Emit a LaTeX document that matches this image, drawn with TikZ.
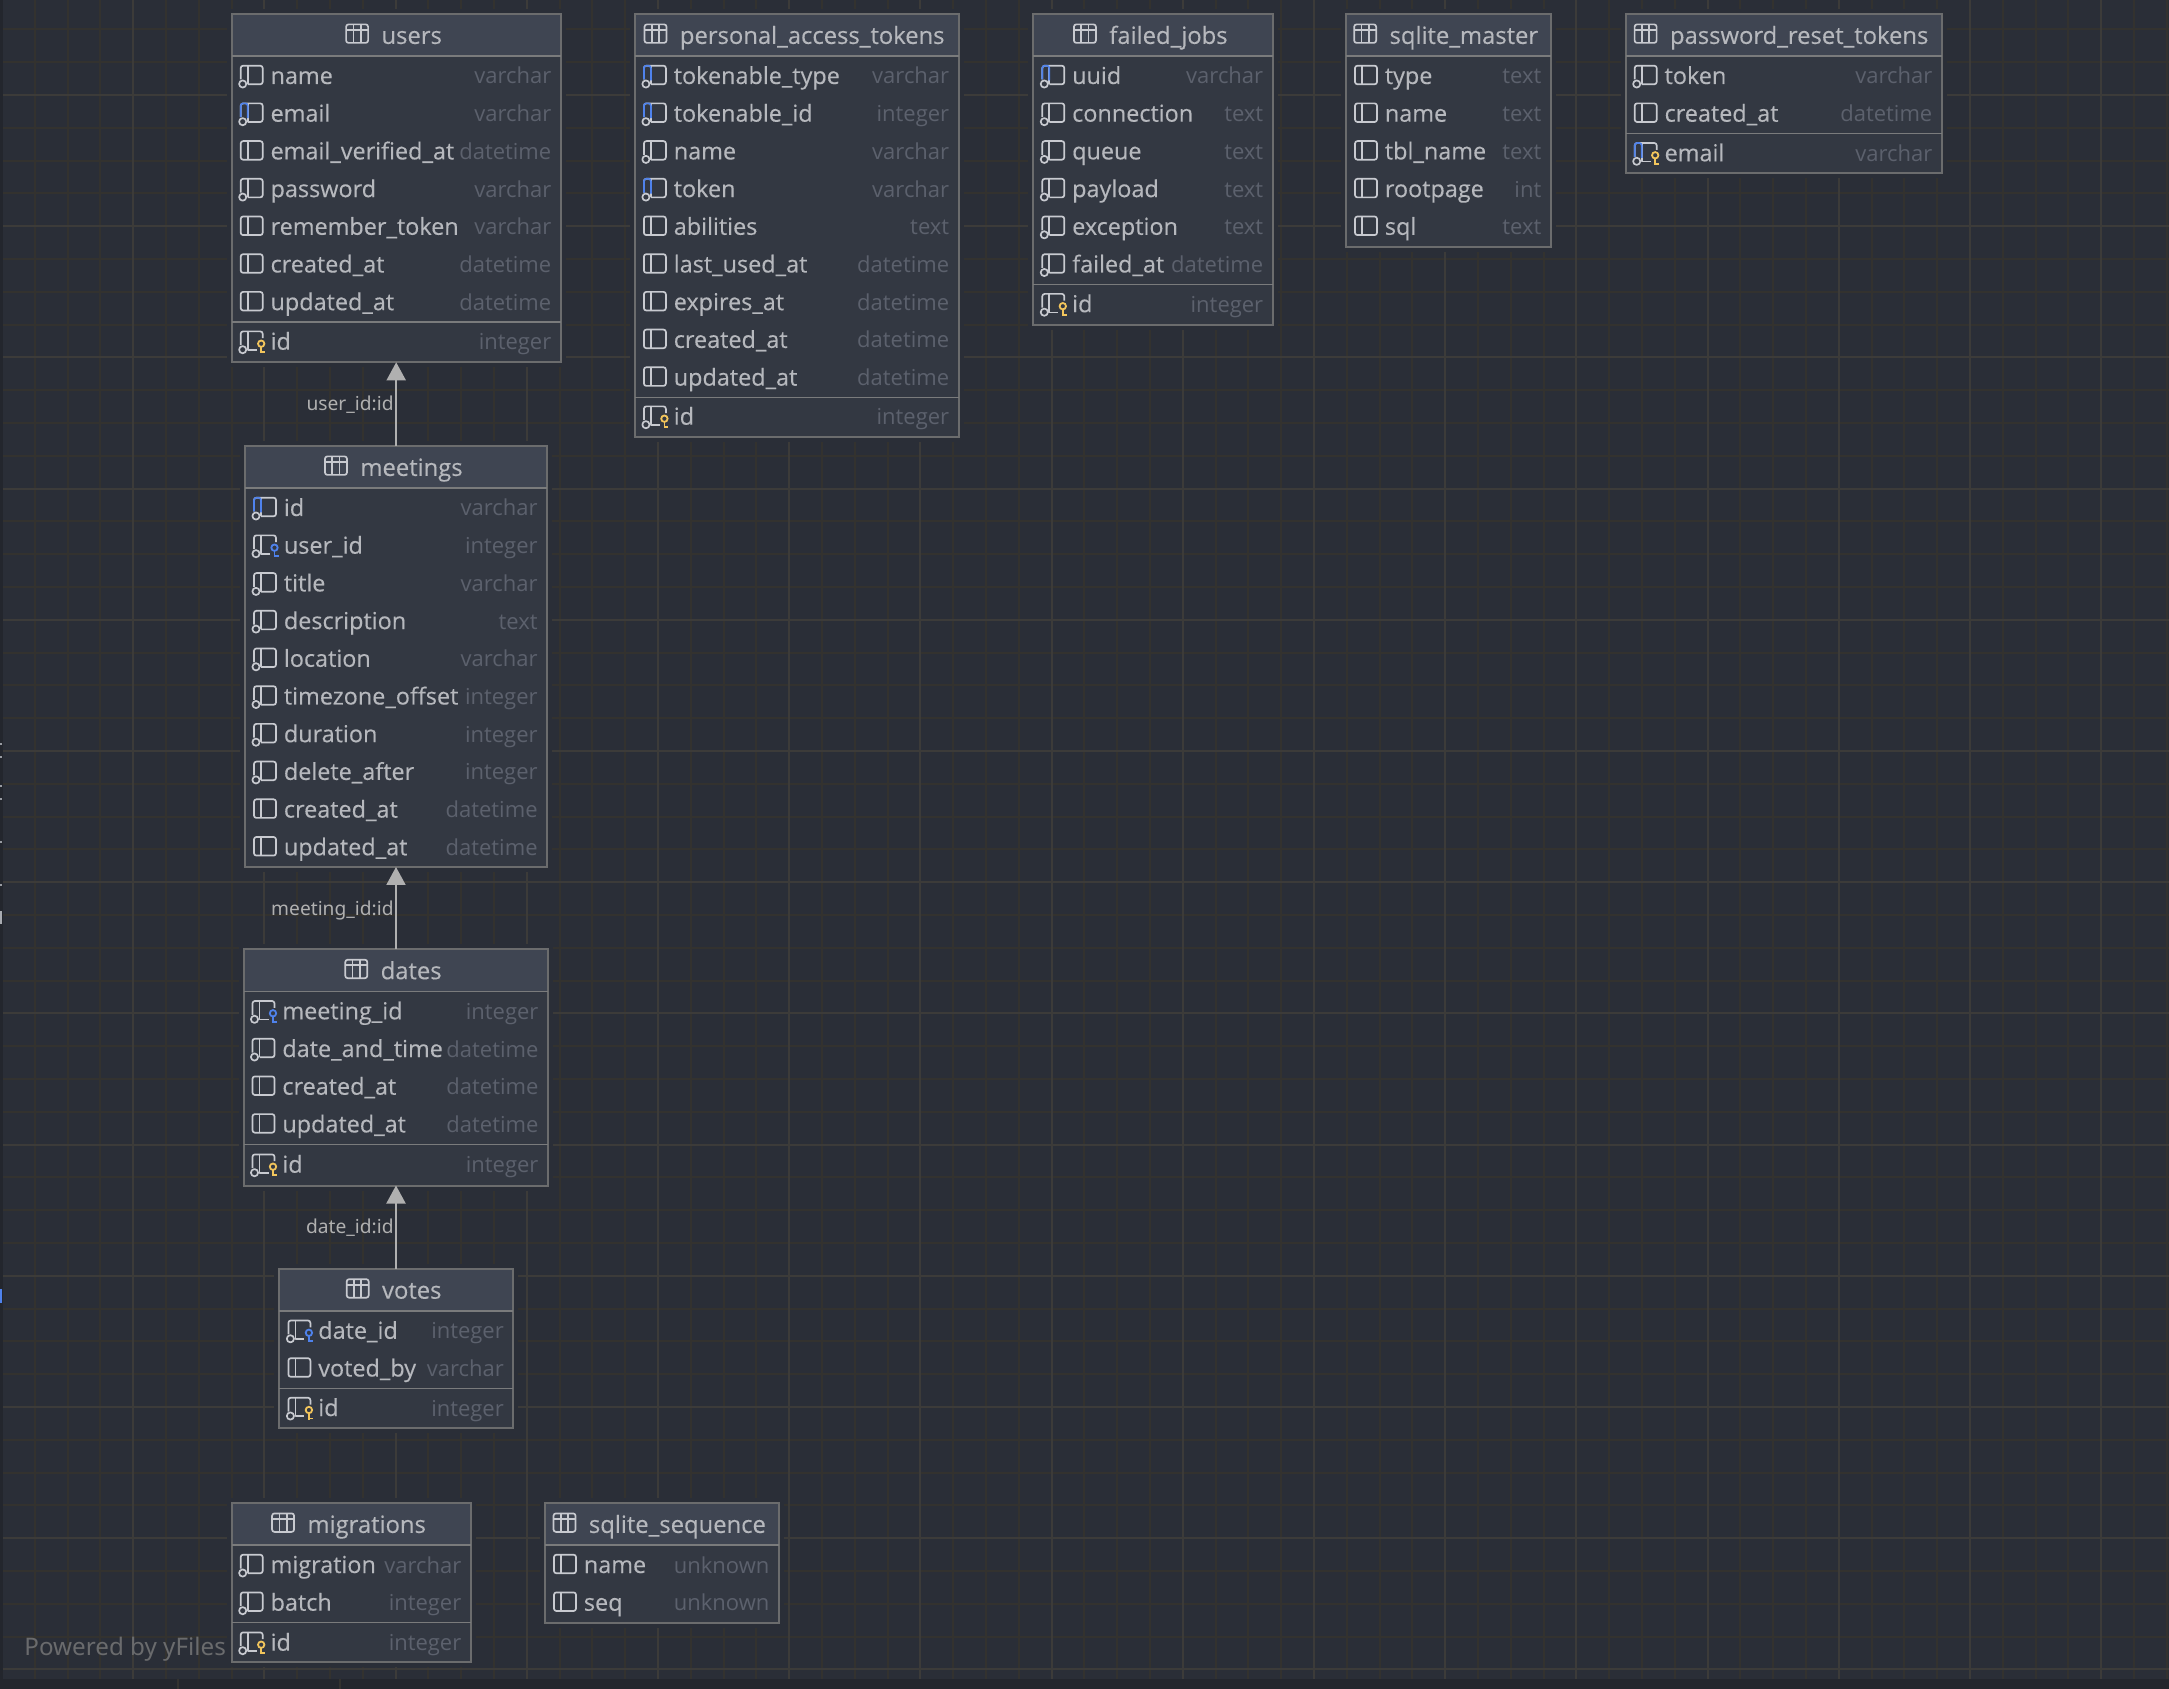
\documentclass[tikz,border=0pt]{standalone}
\usepackage{fontspec}
\usetikzlibrary{arrows.meta}
\setmainfont{Open Sans}
\newfontfamily\labelfont{Noto Sans}
\newfontfamily\namefont[FakeBold=0.25]{Open Sans}
\definecolor{bgc}{HTML}{2A2E37}
\definecolor{stripc}{HTML}{23262D}
\definecolor{minorc}{HTML}{33322F}
\definecolor{majorc}{HTML}{3C3B39}
\definecolor{bodyc}{HTML}{333842}
\definecolor{headc}{HTML}{3F4552}
\definecolor{edgec}{HTML}{6B6C6D}
\definecolor{textc}{HTML}{B6B8BD}
\definecolor{typec}{HTML}{5C616D}
\definecolor{iconc}{HTML}{C8CAD0}
\definecolor{bluec}{HTML}{4F82EC}
\definecolor{yelc}{HTML}{F2C55C}
\definecolor{linkc}{HTML}{B0B0B0}
\tikzset{
  minorg/.style={minorc,line width=1pt},
  majorg/.style={majorc,line width=1pt},
  tablebox/.style={draw=edgec,fill=bodyc,line width=1pt,inner sep=0pt,outer sep=0pt,anchor=north west},
  divline/.style={edgec!90!white,line width=0.75pt},
  titletext/.style={text=textc,inner sep=0pt,anchor=base,font=\namefont\fontsize{11.9}{14}\selectfont},
  fieldname/.style={text=textc,inner sep=0pt,anchor=base west,font=\namefont\fontsize{11.7}{14}\selectfont},
  fieldtype/.style={text=typec,inner sep=0pt,anchor=base east,font=\fontsize{11}{14}\selectfont},
  linktext/.style={text=linkc,inner sep=0pt,anchor=base east,font=\labelfont\fontsize{9.6}{12}\selectfont},
  link/.style={linkc,line width=1pt,-{Triangle[width=9.5pt,length=9pt]}},
  ic/.style={iconc,line width=0.85pt,line join=round},
  icb/.style={bluec,line width=0.85pt,line join=round},
  icround/.style={rounded corners=1.2pt},
}
\newcommand\keyshape[1]{%
  \draw[#1,line width=0.9pt] (29.5,2) circle[radius=3.2];
  \draw[#1,line width=0.9pt] (29.5,5.2)--(29.5,11.5) (29.5,10.5)--(33.5,10.5);}
\newcommand\holeshape{\draw[ic] (11,8) circle[radius=3.6];}
\expandafter\newcommand\csname iconp\endcsname{%
  \draw[ic,icround] (9,-10.3) rectangle (31,8.3);
  \draw[ic] (16,-10.3)--(16,8.3);}
\expandafter\newcommand\csname iconn\endcsname{%
  \draw[ic,icround] (9,3.5)--(9,-10.3)--(31,-10.3)--(31,8.3)--(16,8.3);
  \draw[ic] (16,-10.3)--(16,8.3);\holeshape}
\expandafter\newcommand\csname iconb\endcsname{%
  \csname iconn\endcsname
  \draw[icb,icround] (9,3.5)--(9,-10.3)--(16,-10.3)--(16,4.5);}
\expandafter\newcommand\csname iconk\endcsname{%
  \draw[ic,icround] (9,3.5)--(9,-10.3)--(31,-10.3)--(31,-3.5);
  \draw[ic] (16,-10.3)--(16,8.3)--(25,8.3);\holeshape\keyshape{yelc}}
\expandafter\newcommand\csname iconf\endcsname{%
  \draw[ic,icround] (9,3.5)--(9,-10.3)--(31,-10.3)--(31,-3.5);
  \draw[ic] (16,-10.3)--(16,8.3)--(25,8.3);\holeshape\keyshape{bluec}}
\expandafter\newcommand\csname icona\endcsname{%
  \csname iconk\endcsname
  \draw[icb,icround] (9,3.5)--(9,-10.3)--(16,-10.3)--(16,4.5);}
% id, L, R, T, B, title, rows
\newcommand\dbtable[7]{%
  \fill[bgc] ({#2-5},{#4-5}) rectangle ({#3+5},{#5+5});
  \node[tablebox,minimum width={(#3-#2)*0.5pt},minimum height={(#5-#4)*0.5pt}] (#1) at (#2,#4) {};
  \fill[headc] ({#2+1},{#4+1}) rectangle ({#3-1},{#4+42.3});
  \draw[divline] (#2,{#4+42.3})--(#3,{#4+42.3});
  \node[titletext] (#1title) at ({(#2+#3)/2-2},{#4+30.2}) {\hspace*{17.5pt}#6};
  \begin{scope}[shift={(#1title.base west)}]
    \draw[ic,rounded corners=1.2pt] (0,-19.5) rectangle (22,-1);
    \draw[ic] (0,-14)--(22,-14) (7.3,-19.5)--(7.3,-1) (14.6,-19.5)--(14.6,-1);
  \end{scope}
  \foreach \icn/\nm/\ty [count=\i from 0] in {#7}{%
    \pgfmathsetmacro\yy{#4+62.3+37.7*\i}
    \dbrow{#2}{#3}{\yy}{\icn}{\nm}{\ty}
  }%
}
\newcommand\dbrow[6]{%
  \begin{scope}[shift={(#1,#3)}]\csname icon#4\endcsname\end{scope}
  \node[fieldname] at ({#1+38.5},{#3+8}) {#5};
  \node[fieldtype] at ({#2-9},{#3+8}) {#6};
}
% L, R, sep y, pk row centre y, icon, name, type
\newcommand\dbpk[7]{%
  \draw[divline] (#1,#3)--(#2,#3);
  \dbrow{#1}{#2}{#4}{#5}{#6}{#7}
}
\begin{document}
\begin{tikzpicture}[x=0.5pt,y=-0.5pt]
\useasboundingbox (0,0) rectangle (2169,1689);
\fill[bgc] (0,0) rectangle (2169,1689);
% grid
\foreach \k in {0,...,66}{\draw[minorg] ({2+32.8*\k},0)--({2+32.8*\k},1679);}
\foreach \k in {0,...,52}{\draw[minorg] (3,{-3.4+32.8*\k})--(2169,{-3.4+32.8*\k});}
\foreach \k in {0,...,16}{\draw[majorg] ({2+131.2*\k},0)--({2+131.2*\k},1679);}
\foreach \k in {0,...,12}{\draw[majorg] (3,{95+131.2*\k})--(2169,{95+131.2*\k});}
% window chrome
\fill[stripc] (0,1679) rectangle (2169,1689);
\fill[stripc] (0,0) rectangle (3,1679);
\draw[minorc,line width=0.6pt] (178,1679)--(178,1689) (340,1679)--(340,1689);
\foreach \yy in {743,756,785,798,841,884}{\fill[iconc!70!bgc] (0,\yy) rectangle (1.5,{\yy+2});}
\fill[iconc!80!bgc] (0,911) rectangle (1.5,924);
\fill[bluec] (0,1289) rectangle (1.5,1303);

\node[text=gray!75!bgc,inner sep=0pt,anchor=base west,font=\labelfont\fontsize{12.1}{14}\selectfont] (powered) at (24,1655) {Powered by yFiles};

\dbtable{users}{231.7}{560.7}{13.7}{362.3}{users}{n/name/varchar,b/email/varchar,p/email\_verified\_at/datetime,n/password/varchar,p/remember\_token/varchar,p/created\_at/datetime,p/updated\_at/datetime}
\dbpk{231.7}{560.7}{322}{341.7}{k}{id}{integer}

\dbtable{pat}{634.9}{958.6}{13.7}{437.3}{personal\_access\_tokens}{b/tokenable\_type/varchar,b/tokenable\_id/integer,n/name/varchar,b/token/varchar,p/abilities/text,p/last\_used\_at/datetime,p/expires\_at/datetime,p/created\_at/datetime,p/updated\_at/datetime}
\dbpk{634.9}{958.6}{397.3}{416.7}{k}{id}{integer}

\dbtable{failed}{1033.3}{1272.6}{13.7}{324.8}{failed\_jobs}{b/uuid/varchar,n/connection/text,n/queue/text,n/payload/text,n/exception/text,n/failed\_at/datetime}
\dbpk{1033.3}{1272.6}{284.5}{304.2}{k}{id}{integer}

\dbtable{master}{1346}{1550.7}{13.7}{247.4}{sqlite\_master}{p/type/text,p/name/text,p/tbl\_name/text,p/rootpage/int,p/sql/text}

\dbtable{reset}{1625.7}{1941.7}{13.7}{173.3}{password\_reset\_tokens}{n/token/varchar,p/created\_at/datetime}
\dbpk{1625.7}{1941.7}{133.3}{153.3}{a}{email}{varchar}

\dbtable{meetings}{245}{547}{445.7}{867}{meetings}{b/id/varchar,f/user\_id/integer,n/title/varchar,n/description/text,n/location/varchar,n/timezone\_offset/integer,n/duration/integer,n/delete\_after/integer,p/created\_at/datetime,p/updated\_at/datetime}

\dbtable{dates}{243.5}{547.8}{949}{1185.5}{dates}{f/meeting\_id/integer,n/date\_and\_time/datetime,p/created\_at/datetime,p/updated\_at/datetime}
\dbpk{243.5}{547.8}{1144.5}{1164.7}{k}{id}{integer}

\dbtable{votes}{279.4}{513.2}{1268.5}{1428}{votes}{f/date\_id/integer,p/voted\_by/varchar}
\dbpk{279.4}{513.2}{1388.5}{1408}{k}{id}{integer}

\dbtable{migrations}{231.7}{470.7}{1502.7}{1662.3}{migrations}{n/migration/varchar,n/batch/integer}
\dbpk{231.7}{470.7}{1622.7}{1642.7}{k}{id}{integer}

\dbtable{sequence}{545}{778.8}{1502.7}{1622.7}{sqlite\_sequence}{p/name/unknown,p/seq/unknown}

\draw[link] (users.south |- meetings.north) -- (users.south);
\draw[link] (meetings.south |- dates.north) -- (meetings.south);
\draw[link] (meetings.south |- votes.north) -- (dates.south -| meetings.south);
\node[linktext] (l1) at (394,411) {user\_id:id};
\node[linktext] (l2) at (394,915.5) {meeting\_id:id};
\node[linktext] (l3) at (394,1233.5) {date\_id:id};
\end{tikzpicture}
\end{document}
